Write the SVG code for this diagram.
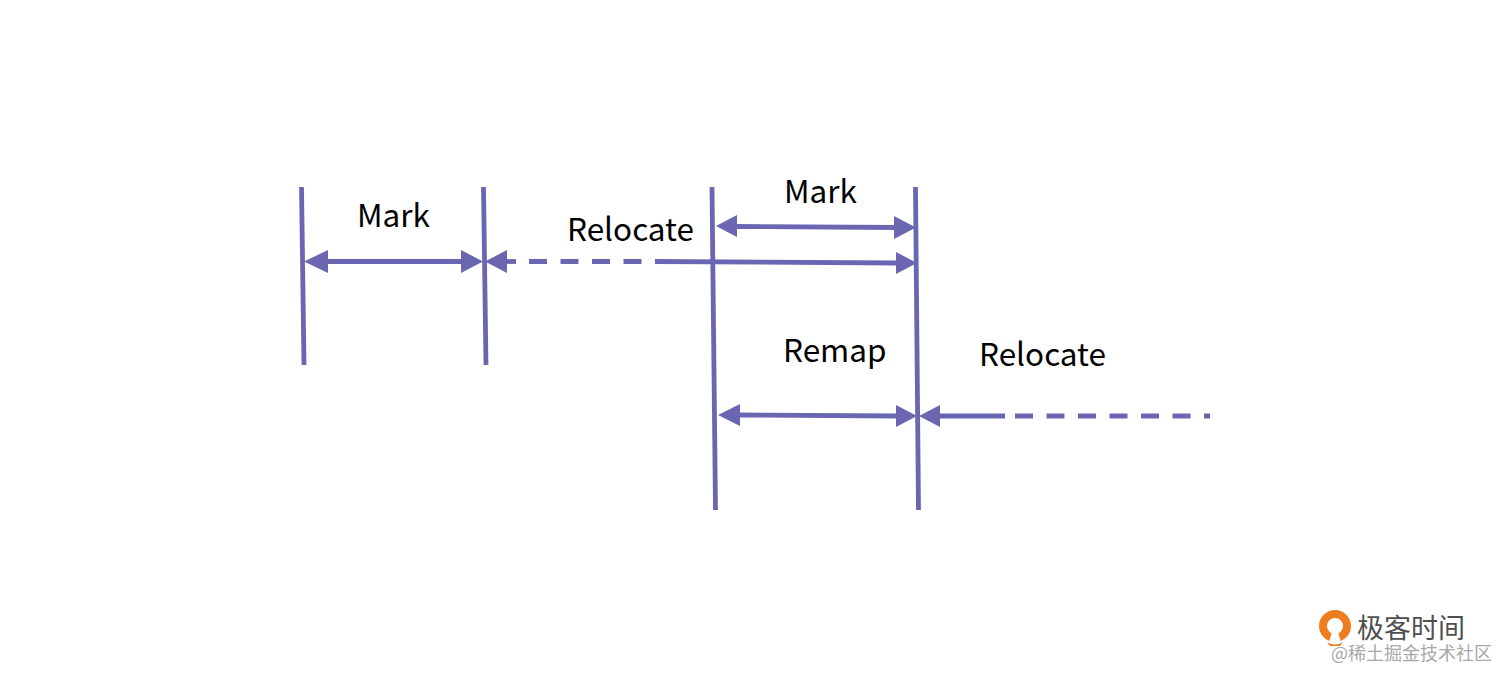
<svg xmlns="http://www.w3.org/2000/svg" width="1512" height="685" viewBox="0 0 1512 685">
<style>
.l{stroke:#6b66b2;stroke-width:4.800;fill:none}
.d{stroke:#6b66b2;stroke-width:4.800;fill:none;stroke-dasharray:18 13.500}
.h{fill:#6b66b2;stroke:none}
.t{font-family:"Noto Sans CJK SC","Noto Sans",sans-serif;font-size:31.500px;fill:#000}
</style>
<rect width="1512" height="685" fill="#fff"/>
<g id="connectors">
<path class="l" d="M301.500 187L304 365"/>
<path class="l" d="M483.500 187L486 365"/>
<path class="l" d="M712 187L715.500 510"/>
<path class="l" d="M915.500 187L918.500 510"/>
<path class="l" d="M325 261.500H464"/>
<path class="h" d="M304 261.500L328 250V273Z"/>
<path class="h" d="M483 261.500L461 250V273Z"/>
<path class="h" d="M485 261.500L507 250V273Z"/>
<path class="l" d="M505 261.500H516"/>
<path class="d" d="M529 261.500H642"/>
<path class="l" d="M655 261.500L897 263"/>
<path class="h" d="M917 263L896 252V274Z"/>
<path class="l" d="M736 226.500L897 227.500"/>
<path class="h" d="M716 226L737 215V237Z"/>
<path class="h" d="M916 227.500L894 216V239Z"/>
<path class="l" d="M738 415L898 416"/>
<path class="h" d="M718 415L740 404V426Z"/>
<path class="h" d="M917 416L896 405V427Z"/>
<path class="h" d="M919 416L940 405V427Z"/>
<path class="l" d="M938 416H1005"/>
<path class="d" d="M1015 416H1210"/>
</g>
<g id="label-mark-1"><text class="t" x="357" y="227">Mark</text></g>
<g id="label-relocate-1"><text class="t" x="567" y="241">Relocate</text></g>
<g id="label-mark-2"><text class="t" x="784" y="203">Mark</text></g>
<g id="label-remap"><text class="t" x="783" y="362">Remap</text></g>
<g id="label-relocate-2"><text class="t" x="979" y="366">Relocate</text></g>
<g id="watermark">
<circle cx="1335" cy="626" r="12" fill="none" stroke="#ee7d22" stroke-width="8"/>
<path d="M1335 622L1329 642H1341Z" fill="#fff"/>
<path d="M1327 642Q1335 647 1343 642L1340 646H1330Z" fill="#ee7d22"/>
<text x="1357" y="638" font-family="'Noto Sans CJK SC',sans-serif" font-size="27" fill="#4f4f4f">极客时间</text>
<text x="1331" y="660" font-family="'Noto Sans CJK SC',sans-serif" font-size="18" fill="#a8a8a8">@稀土掘金技术社区</text>
</g>
</svg>
